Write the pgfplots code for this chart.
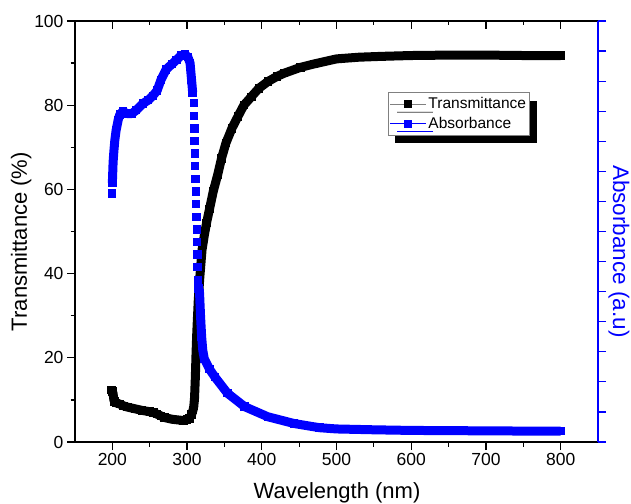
\documentclass[border=0pt]{standalone}
\usepackage{pgfplots}
\pgfplotsset{compat=1.18}
\usepackage{fontspec}
\setmainfont{Liberation Sans}
\usetikzlibrary{shadows}

\pgfplotsset{
  frame/.style={
    width=523pt, height=421pt, scale only axis,
    xmin=150, xmax=850,
    /pgf/number format/assume math mode=true,
    tick label style={font=\fontsize{17.5}{17.5}\selectfont},
    label style={font=\fontsize{22}{22}\selectfont},
    axis line style={line width=1.2pt},
    major tick length=8pt, minor tick length=4.5pt,
    every tick/.style={line width=1.2pt},
  },
}

\begin{document}
\begin{tikzpicture}

% left / bottom axis with transmittance
\begin{axis}[frame, name=main,
    ymin=0, ymax=100,
    axis x line*=bottom, axis y line*=left,
    tick align=outside,
    xtick={200,300,...,800}, minor x tick num=1,
    ytick={0,20,...,100}, minor y tick num=1,
    xlabel={Wavelength (nm)},
    ylabel={Transmittance (\%)},
    xlabel style={at={(axis description cs:0.501,-0.133)}, anchor=base},
    ylabel style={at={(axis description cs:-0.103,0.476)}, anchor=center},
]
\addplot[black, line width=9pt, line join=round,
    mark=square*, mark size=3.7pt, mark options={line width=0pt}]
coordinates {
(199,12.3) (200,12) (201,11.5) (202,10) (203,9.6) (205,9.3) (210,9)
(215,8.6) (220,8.3) (230,7.9) (240,7.5) (250,7.2) (255,7) (260,6.6)
(265,6.2) (270,5.8) (280,5.4) (290,5.2) (295,5.1) (300,5.3) (303,5.6)
(306,6.5) (308,7.6) (309,8.5) (310,10.5) (311,15) (312,21) (313,26)
(315,33.7) (317,39) (320,45.6) (323,49) (326,52) (330,55.3) (335,59.5)
(341,63.5) (346,67.3) (352,71) (360,74.5) (368,77.3) (376,80) (386,82)
(396,84) (408,85.6) (420,86.8) (430,87.6) (452,89) (470,89.8) (500,91)
(530,91.4) (560,91.6) (600,91.8) (650,91.9) (700,91.9) (750,91.8) (800,91.8)
};
\end{axis}

% top axis, inward ticks
\begin{axis}[frame,
    ymin=0, ymax=100,
    axis x line*=top, hide y axis,
    tick align=inside,
    xtick={200,300,...,800}, minor x tick num=1,
    xticklabels={},
]
\addplot[draw=none] coordinates {(200,0)};
\end{axis}

% right axis with absorbance
\begin{axis}[frame,
    ymin=0, ymax=100,
    axis y line*=right, hide x axis,
    tick align=outside,
    ytick={0,7.142857,14.285714,21.428571,28.571429,35.714286,42.857143,
           50,57.142857,64.285714,71.428571,78.571429,85.714286,92.857143,100},
    yticklabels={},
    axis line style={blue, line width=1.2pt},
    ytick style={blue, line width=1.2pt},
    ylabel={Absorbance (a.u)},
    ylabel style={blue, at={(axis description cs:1.040,0.4525)}, anchor=center, rotate=180,
        font=\fontsize{22.5}{22.5}\selectfont},
    legend style={at={(axis description cs:0.598,0.831)}, anchor=north west,
        draw=gray, line width=0.8pt, fill=white,
        font=\fontsize{15.5}{17}\selectfont,
        inner xsep=1.5pt, inner ysep=3pt, row sep=3pt,
        drop shadow={shadow xshift=7pt, shadow yshift=-8pt, fill=black, opacity=1}},
    legend cell align=left,
    legend image code/.code={\draw[mark repeat=2,mark phase=2,#1]
        plot coordinates {(0pt,0pt) (18pt,0pt) (36pt,0pt)};},
]
\addlegendimage{gray, line width=0.8pt, mark=square*, mark size=3.5pt,
    mark options={draw=black, fill=black}}
\addlegendentry{Transmittance}
\addlegendimage{blue, line width=0.8pt, mark=square*, mark size=3.5pt,
    mark options={draw=blue, fill=blue}}
\addlegendentry{Absorbance}

\addplot[blue, only marks, forget plot,
    mark=square*, mark size=3.7pt, mark options={line width=0pt}]
coordinates {(199.8,59)};
\addplot[blue, line width=9pt, line join=round, forget plot,
    mark=square*, mark size=3.7pt, mark options={line width=0pt}]
coordinates {
(200,61.5) (200.5,64) (201,66.5) (202,69) (203.3,71.7) (205,74) (207.8,76.5)
(210,77.8) (214,78.5) (220,78) (226,78) (232,78.8) (241,80.4) (248,81.2)
(254,82.2) (260,83.5) (265,86) (272,88.5) (280,89.8) (286,90.8) (292,91.8)
(297,92) (301,91.5) (304,90) (306,86) (307.5,83)
};
\addplot[blue, only marks, forget plot,
    mark=square*, mark size=3.7pt, mark options={line width=0pt}]
coordinates {
(309,80.5) (309.4,77.5) (309.8,74.5) (310.2,71.5) (310.6,68.5) (311,65.5)
(311.4,62.5) (311.8,59.5) (312.2,56.5) (312.6,53.5) (313,50.5) (313.4,47.5)
(313.8,44.5) (314.2,41.5) (314.6,38.5)
};
\addplot[blue, line width=9pt, line join=round, forget plot,
    mark=square*, mark size=3.7pt, mark options={line width=0pt}]
coordinates {
(315.5,36.5) (316.7,35.4) (318,30) (319.5,25) (321,21.8) (323,19.8) (330,17.3)
(337,15.5) (354,11.6) (377,8.4) (408,6) (443,4.4) (477,3.4) (500,3.1)
(550,2.9) (600,2.75) (650,2.7) (700,2.65) (750,2.6) (800,2.6)
};
\end{axis}

\pgfresetboundingbox
\useasboundingbox ([xshift=-75pt,yshift=-61pt]main.south west)
    rectangle ([xshift=33pt,yshift=21pt]main.north east);
\end{tikzpicture}
\end{document}
